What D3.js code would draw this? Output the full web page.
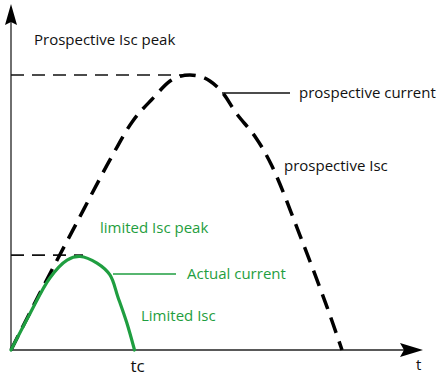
<!DOCTYPE html>
<html>
<head>
<meta charset="utf-8">
<script src="https://cdn.jsdelivr.net/npm/d3@7"></script>
<style>
  html, body { margin: 0; padding: 0; background: #fff; }
  svg text { font-family: "Open Sans", "DejaVu Sans", sans-serif; }
</style>
</head>
<body>
<svg id="chart" width="438" height="378"></svg>
<script>
// Time in ms (one half-cycle), current in per-unit of the prospective peak
const prospectiveT = [0, 0.87, 1.99, 2.98, 3.67, 4.28, 4.79, 5.09, 5.39, 5.69, 5.99, 6.36, 6.78, 7.38, 7.86, 8.70, 9.52, 9.97];
const prospectiveI = [0, 0.207, 0.465, 0.691, 0.833, 0.916, 0.978, 0.995, 1.0, 0.995, 0.978, 0.938, 0.862, 0.771, 0.669, 0.418, 0.156, 0];

const limitedT = [0, 0.57, 1.17, 1.69, 2.08, 2.59, 2.98, 3.22, 3.49, 3.72];
const limitedI = [0, 0.132, 0.262, 0.327, 0.340, 0.316, 0.273, 0.193, 0.098, 0];

const prospectivePeak = { t: 5.39, i: 1.0 };
const limitedPeak = { t: 2.17, i: 0.345 };
const cutoffTime = 3.72;

const labels = {
  yTitle: "Prospective Isc peak",
  prospectiveCurrent: "prospective current",
  prospectiveIsc: "prospective Isc",
  limitedPeak: "limited Isc peak",
  actualCurrent: "Actual  current",
  limitedIsc: "Limited Isc",
  tc: "tc",
  t: "t"
};

const svg = d3.select("#chart");
const x = d3.scaleLinear().domain([0, 10]).range([11, 343]);
const y = d3.scaleLinear().domain([0, 1]).range([350, 75]);

const green = "#1f9e40";

// Axes with arrowheads
const x0 = x(0), y0 = y(0);
svg.append("line").attr("x1", x0).attr("y1", y0).attr("x2", x0).attr("y2", 14)
  .attr("stroke", "#222").attr("stroke-width", 1.3);
svg.append("line").attr("x1", x0).attr("y1", y0).attr("x2", 412).attr("y2", y0)
  .attr("stroke", "#222").attr("stroke-width", 1.3);
svg.append("path")
  .attr("d", `M${x0},4 L${x0 + 6},25 L${x0},22 L${x0 - 6},25 Z`)
  .attr("fill", "#000");
svg.append("path")
  .attr("d", `M423,${y0} L400,${y0 - 7} L404,${y0} L400,${y0 + 7} Z`)
  .attr("fill", "#000");

// Peak reference lines
svg.append("line")
  .attr("x1", x0).attr("y1", y(prospectivePeak.i))
  .attr("x2", x(prospectivePeak.t)).attr("y2", y(prospectivePeak.i))
  .attr("stroke", "#111").attr("stroke-width", 1.7).attr("stroke-dasharray", "13,8");
svg.append("line")
  .attr("x1", x0).attr("y1", y(limitedPeak.i))
  .attr("x2", x(limitedPeak.t)).attr("y2", y(limitedPeak.i))
  .attr("stroke", "#111").attr("stroke-width", 1.7).attr("stroke-dasharray", "13,8");

const line = d3.line()
  .x(d => x(d[0])).y(d => y(d[1]))
  .curve(d3.curveCatmullRom.alpha(0.5));

// Prospective short-circuit current
svg.append("path")
  .datum(d3.zip(prospectiveT, prospectiveI))
  .attr("d", line)
  .attr("fill", "none").attr("stroke", "#000")
  .attr("stroke-width", 3.5).attr("stroke-dasharray", "16,9");

// Limited current
svg.append("path")
  .datum(d3.zip(limitedT, limitedI))
  .attr("d", line)
  .attr("fill", "none").attr("stroke", green)
  .attr("stroke-width", 3.2).attr("stroke-linecap", "round");

// Leader lines
svg.append("line").attr("x1", 222).attr("y1", 93).attr("x2", 290).attr("y2", 93)
  .attr("stroke", "#111").attr("stroke-width", 1.3);
svg.append("line").attr("x1", 113).attr("y1", 274).attr("x2", 176).attr("y2", 274)
  .attr("stroke", green).attr("stroke-width", 1.3);

// Text
const txt = (s, px, py, fill, size) => svg.append("text")
  .attr("x", px).attr("y", py).attr("fill", fill)
  .attr("font-size", size).text(s);

txt(labels.yTitle, 34, 45, "#111", 15);
txt(labels.prospectiveCurrent, 299, 98, "#111", 15);
txt(labels.prospectiveIsc, 284, 171, "#111", 15);
txt(labels.limitedPeak, 100, 233, green, 15);
txt(labels.actualCurrent, 187, 279, green, 15);
txt(labels.limitedIsc, 141, 321, green, 15);
txt(labels.tc, x(cutoffTime) - 4, 372, "#111", 17);
txt(labels.t, 416, 370, "#111", 15);
</script>
</body>
</html>
